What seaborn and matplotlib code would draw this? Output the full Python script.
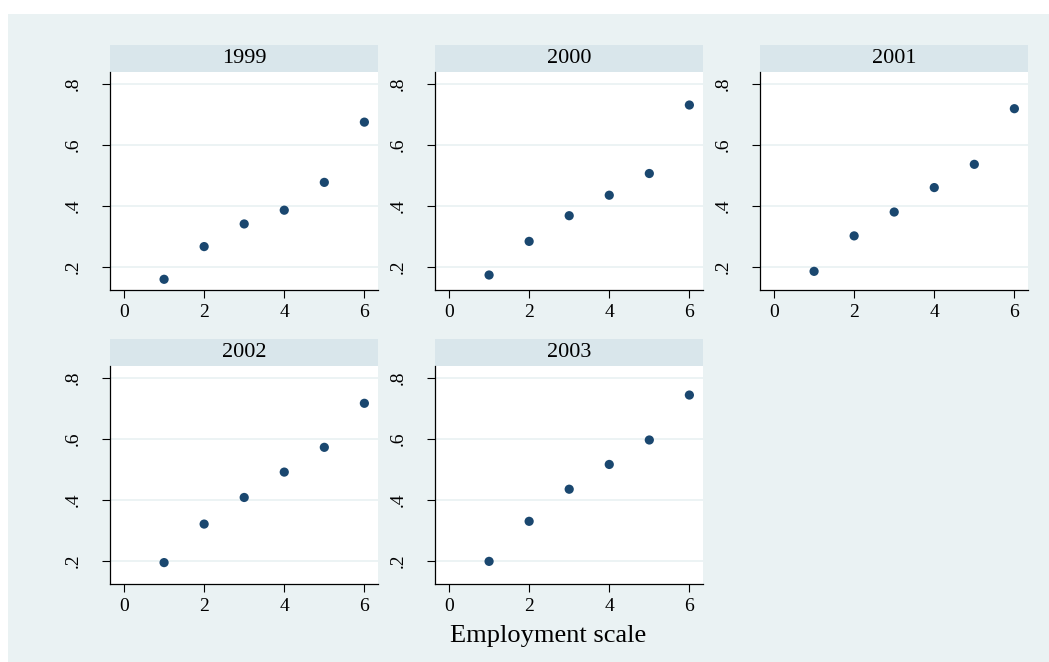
import numpy as np
import pandas as pd
import matplotlib
matplotlib.use("Agg")
import matplotlib.pyplot as plt
from matplotlib.patches import Rectangle
from matplotlib.ticker import FuncFormatter
import seaborn as sns

# Share of respondents by employment scale, one panel per survey year
years = [1999, 2000, 2001, 2002, 2003]
scale = [1, 2, 3, 4, 5, 6]
share_1999 = [0.160, 0.267, 0.341, 0.386, 0.477, 0.674]
share_2000 = [0.174, 0.284, 0.368, 0.435, 0.506, 0.730]
share_2001 = [0.186, 0.302, 0.380, 0.460, 0.536, 0.718]
share_2002 = [0.195, 0.321, 0.408, 0.491, 0.572, 0.716]
share_2003 = [0.199, 0.330, 0.435, 0.516, 0.596, 0.743]
x_ticks = [0, 2, 4, 6]
y_ticks = [0.2, 0.4, 0.6, 0.8]

series = [share_1999, share_2000, share_2001, share_2002, share_2003]
df = pd.DataFrame({
    "year": np.repeat(years, len(scale)),
    "scale": scale * len(years),
    "share": np.concatenate(series),
})

BG = "#EAF2F3"
STRIP = "#D9E6EB"
NAVY = "#1A476F"
W, H = 1049, 662

sns.set_theme(style="white")
plt.rcParams["font.family"] = ["Liberation Serif", "DejaVu Serif"]

g = sns.FacetGrid(df, col="year", col_wrap=3, sharex=True, sharey=True,
                  despine=False)
g.map_dataframe(sns.scatterplot, x="scale", y="share", color=NAVY,
                s=44, edgecolor="none", linewidth=0)
fig = g.figure
fig.set_size_inches(W / 100, H / 100)
fig.set_dpi(100)
fig.patch.set_facecolor("white")

# light panel behind the whole graph
fig.patches.append(Rectangle((8 / W, 0), 1 - 8 / W, 1 - 14 / H,
                             transform=fig.transFigure, facecolor=BG,
                             edgecolor="none", zorder=-10))

lefts = [110, 435, 760]
tops = [72, 366]
pw, ph = 268, 218
strip_h = 27

for i, (ax, yr) in enumerate(zip(g.axes.flat, years)):
    r, c = divmod(i, 3)
    ax.set_position([lefts[c] / W, 1 - (tops[r] + ph) / H, pw / W, ph / H])
    ax.set_facecolor("white")
    ax.set_xlim(-0.35, 6.34)
    ax.set_ylim(0.125, 0.838)
    ax.set_xticks(x_ticks)
    ax.set_yticks(y_ticks)
    ax.yaxis.set_major_formatter(FuncFormatter(lambda v, p: f"{v:.1f}".lstrip("0")))
    ax.xaxis.set_major_formatter(FuncFormatter(lambda v, p: f"{v:g}"))
    ax.tick_params(axis="both", which="major", direction="out", length=6,
                   width=0.8, color="black", labelsize=14, labelcolor="black",
                   left=True, bottom=True, labelleft=True, labelbottom=True)
    ax.tick_params(axis="y", pad=14.5)
    ax.tick_params(axis="x", pad=4)
    for lab in ax.get_yticklabels():
        lab.set_visible(True)
        lab.set_rotation(90)
        lab.set_va("center")
    for lab in ax.get_xticklabels():
        lab.set_visible(True)
    ax.grid(False)
    for yv in y_ticks:
        ax.axhline(yv, color=BG, lw=1.3, zorder=0)
    for side in ["top", "right"]:
        ax.spines[side].set_visible(False)
    for side in ["left", "bottom"]:
        ax.spines[side].set_color("black")
        ax.spines[side].set_linewidth(0.9)
    ax.set_xlabel("")
    ax.set_ylabel("")
    ax.set_title("")
    # header strip with the year
    ax.add_patch(Rectangle((0, 1), 1, strip_h / ph, transform=ax.transAxes,
                           facecolor=STRIP, edgecolor="none", clip_on=False))
    ax.text(0.5, 1 + strip_h / ph / 2, str(yr), transform=ax.transAxes,
            ha="center", va="center", fontsize=16, color="black")

fig.text(548 / W, 1 - 636 / H, "Employment scale", ha="center", va="center",
         fontsize=19, color="black")

fig.savefig("out.png", dpi=100, facecolor="white")
